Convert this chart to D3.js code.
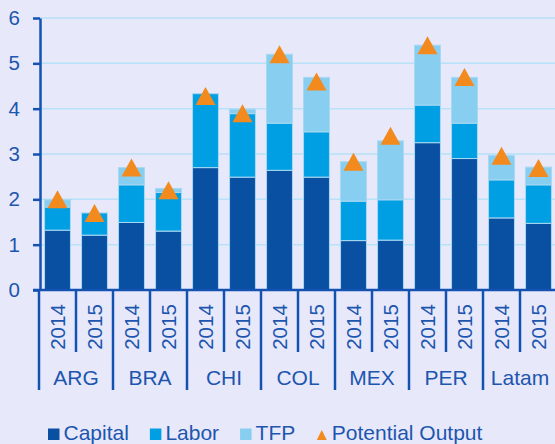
<!DOCTYPE html>
<html lang="en">
<head>
    <meta charset="UTF-8">
    <title>Potential output growth decomposition</title>
    <script src="https://d3js.org/d3.v7.min.js"></script>
    <style>
        body { margin: 0; background: #e8e8fb; }
        svg { display: block; }
        text { font-family: "Liberation Sans", Arial, sans-serif; fill: #1c56ae; }
    </style>
</head>
<body>
<div id="chart"></div>

<script>
// countries and years (two bars per country)
const groups = ["ARG", "BRA", "CHI", "COL", "MEX", "PER", "Latam"];
const years = ["2014", "2015"];

// contributions, in order ARG 2014, ARG 2015, BRA 2014, ...
const capital = [1.32, 1.21, 1.49, 1.30, 2.70, 2.49, 2.64, 2.49, 1.09, 1.10, 3.25, 2.90, 1.59, 1.47];
const labor   = [0.51, 0.49, 0.83, 0.85, 1.63, 1.40, 1.04, 1.00, 0.87, 0.89, 0.83, 0.78, 0.84, 0.85];
const tfp     = [0.16, 0.00, 0.38, 0.09, 0.00, 0.10, 1.52, 1.20, 0.87, 1.30, 1.32, 1.01, 0.54, 0.39];
const potential = [2.0, 1.7, 2.7, 2.2, 4.28, 3.9, 5.2, 4.6, 2.83, 3.4, 5.4, 4.7, 2.96, 2.69];

const yTicks = [0, 1, 2, 3, 4, 5, 6];
const seriesNames = ["Capital", "Labor", "TFP"];

const W = 555, H = 444;
const colors = { Capital: "#0a50a2", Labor: "#009fe3", TFP: "#87cef0" };
const axisColor = "#1352b0";
const orange = "#f28a1e";

// one row per bar
const rows = [];
groups.forEach((g, gi) => {
    years.forEach((yr, yi) => {
        const i = gi * years.length + yi;
        rows.push({
            key: g + "-" + yr, group: g, year: yr,
            Capital: capital[i], Labor: labor[i], TFP: tfp[i],
            potential: potential[i]
        });
    });
});

const svg = d3.select("#chart").append("svg")
    .attr("width", W)
    .attr("height", H);

const x = d3.scaleBand()
    .domain(rows.map(d => d.key))
    .range([39, 557])
    .paddingInner(0.3)
    .paddingOuter(0.15);

const y = d3.scaleLinear()
    .domain([0, 6])
    .range([290, 18]);

// gridlines
svg.append("g")
    .selectAll("line")
    .data(yTicks.filter(t => t > 0))
    .enter().append("line")
    .attr("x1", 40).attr("x2", W)
    .attr("y1", d => y(d)).attr("y2", d => y(d))
    .attr("stroke", "#b6e1f7")
    .attr("stroke-width", 1.5);

// stacked bars
const stack = d3.stack().keys(seriesNames);
const layers = stack(rows);

svg.append("g")
    .selectAll("g")
    .data(layers)
    .enter().append("g")
    .attr("fill", d => colors[d.key])
    .selectAll("rect")
    .data(d => d)
    .enter().append("rect")
    .attr("x", d => x(d.data.key))
    .attr("width", x.bandwidth())
    .attr("y", d => y(d[1]))
    .attr("height", d => y(d[0]) - y(d[1]))
    .attr("stroke", "#a9d8f2")
    .attr("stroke-width", 1);

// potential output markers
svg.append("g")
    .selectAll("path")
    .data(rows)
    .enter().append("path")
    .attr("d", "M0,-9L10,9L-10,9Z")
    .attr("transform", d => `translate(${x(d.key) + x.bandwidth() / 2},${y(d.potential)})`)
    .attr("fill", orange);

// y axis
const yAxis = svg.append("g")
    .attr("transform", "translate(40,0)")
    .call(d3.axisLeft(y).tickValues(yTicks).tickFormat(d3.format("d"))
        .tickSize(7).tickSizeOuter(0).tickPadding(13));
yAxis.select(".domain").attr("stroke", axisColor).attr("stroke-width", 2.5);
yAxis.selectAll(".tick line").attr("stroke", axisColor).attr("stroke-width", 2.5);
yAxis.selectAll(".tick text")
    .attr("font-size", 20.5)
    .attr("fill", "#1c56ae")
    .style("font-family", "'Liberation Sans', Arial, sans-serif");

// x axis line
svg.append("line")
    .attr("x1", 33).attr("x2", W)
    .attr("y1", y(0)).attr("y2", y(0))
    .attr("stroke", axisColor)
    .attr("stroke-width", 2.5);

// band separators: short between years, long between countries
const half = (x.step() - x.bandwidth()) / 2;
svg.append("g")
    .selectAll("line")
    .data(rows)
    .enter().append("line")
    .attr("x1", d => x(d.key) - half).attr("x2", d => x(d.key) - half)
    .attr("y1", y(0))
    .attr("y2", d => d.year === years[0] ? 390 : 352)
    .attr("stroke", axisColor)
    .attr("stroke-width", 2.5);

// year labels
svg.append("g")
    .selectAll("text")
    .data(rows)
    .enter().append("text")
    .attr("transform", d => `translate(${x(d.key) + x.bandwidth() / 2 + 7.5},327) rotate(-90)`)
    .attr("text-anchor", "middle")
    .attr("font-size", 20.5)
    .text(d => d.year);

// country labels
svg.append("g")
    .selectAll("text")
    .data(groups)
    .enter().append("text")
    .attr("x", g => {
        const a = x(g + "-" + years[0]) - half;
        return a + x.step();
    })
    .attr("y", 385)
    .attr("text-anchor", "middle")
    .attr("font-size", 21)
    .text(g => g);

// legend
const legendItems = seriesNames.concat(["Potential Output"]);
const legend = svg.append("g").attr("transform", "translate(48,440)");
let lx = 0;
legendItems.forEach(name => {
    const item = legend.append("g").attr("transform", `translate(${lx},0)`);
    if (colors[name]) {
        item.append("rect")
            .attr("x", 0).attr("y", -11.5)
            .attr("width", 11.5).attr("height", 11.5)
            .attr("fill", colors[name]);
    } else {
        item.append("path")
            .attr("d", "M5.5,-10L10.5,0L0.5,0Z")
            .attr("fill", orange);
    }
    const t = item.append("text")
        .attr("x", 15.5)
        .attr("y", 0)
        .attr("font-size", 21)
        .text(name);
    lx += 15.5 + t.node().getComputedTextLength() + 21;
});
</script>
</body>
</html>
